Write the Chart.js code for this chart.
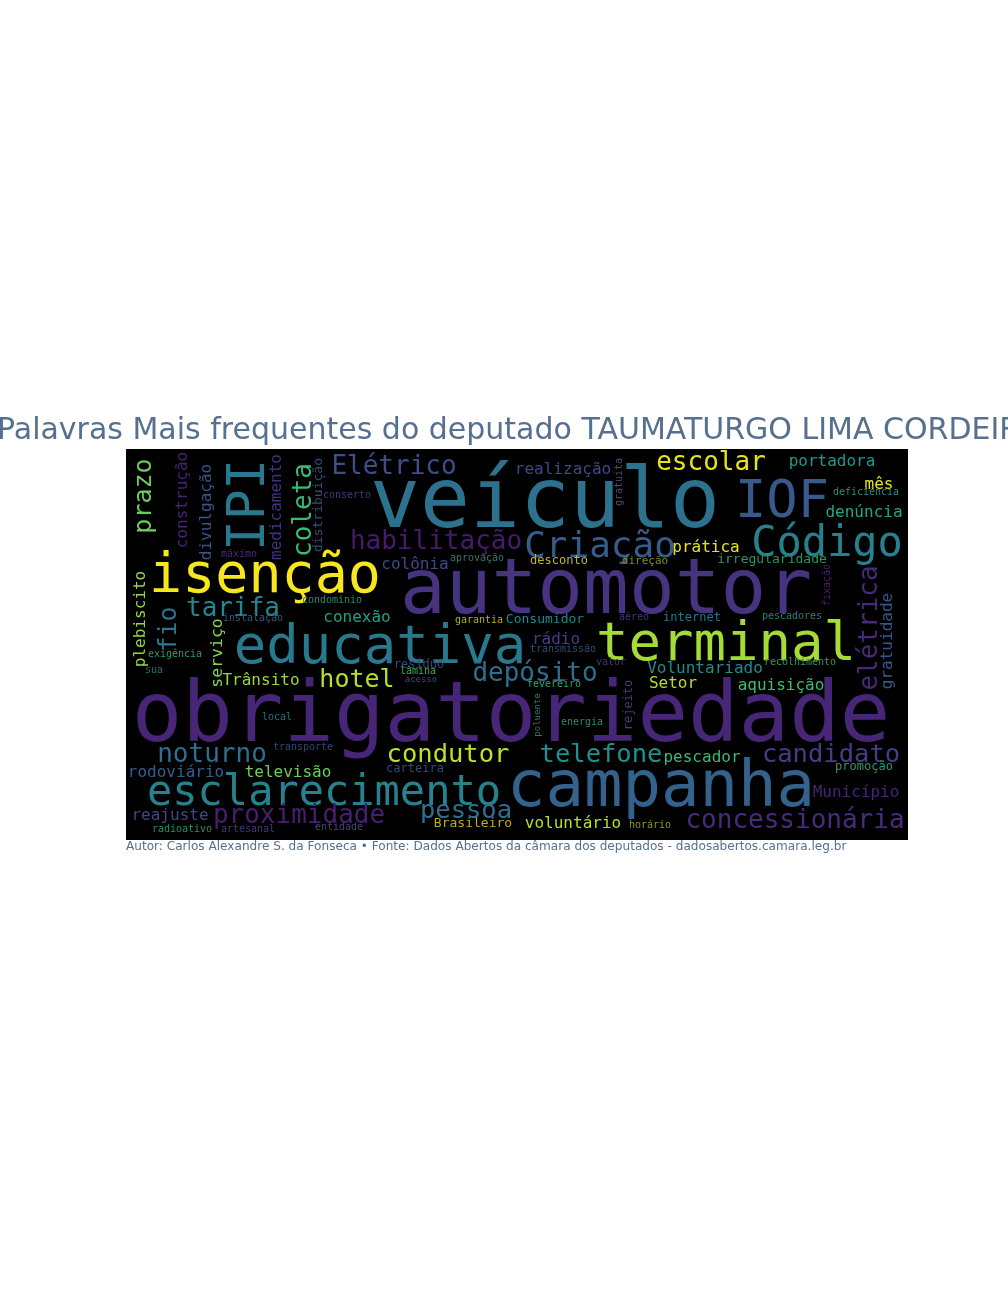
<!DOCTYPE html>
<html><head><meta charset="utf-8">
<script src="https://cdn.jsdelivr.net/npm/chart.js@4.4.0/dist/chart.umd.min.js"></script>
<style>html,body{margin:0;padding:0;background:#fff;overflow:hidden}#wrap{width:1008px;height:1296px;position:relative}</style>
</head><body><div id="wrap"><canvas id="c"></canvas></div>
<script>
const titleText = "Palavras Mais frequentes do deputado TAUMATURGO LIMA CORDEIRO";
const footerText = "Autor: Carlos Alexandre S. da Fonseca \u2022 Fonte: Dados Abertos da c\u00e2mara dos deputados - dadosabertos.camara.leg.br";

const words = ["obrigatoriedade","veículo","automotor","campanha","educativa","terminal","isenção","esclarecimento","IOF","Código","Criação","habilitação","Elétrico","escolar","realização","portadora","mês","deficiência","denúncia","prática","irregularidade","desconto","direção","colônia","aprovação","conserto","tarifa","conexão","condominio","garantia","Consumidor","rádio","transmissão","aéreo","internet","pescadores","Voluntariado","Setor","aquisição","recolhimento","depósito","hotel","resíduo","lâmina","acesso","valor","fevereiro","energia","noturno","condutor","telefone","pescador","candidato","promoção","rodoviário","televisão","carteira","transporte","local","exigência","sua","Trânsito","Município","concessionária","voluntário","horário","Brasileiro","pessoa","proximidade","reajuste","radioativo","artesanal","entidade","máximo","instalação","IPI","prazo","construção","divulgação","medicamento","coleta","distribuição","plebiscito","fio","serviço","elétrica","gratuidade","fixação","gratuita","rejeito","poluente"];
const posX = [385,419,480,535,254,600,139,198,656,701,474,310,268,585,437,706,753,740,738,580,646,433,519,289,351,221,107,231,206,353,419,430,437,508,566,666,579,547,655,674,409,231,293,292,295,485,428,456,86,322,475,576,705,738,50,162,289,177,151,49,28,135,730,669,447,524,347,340,173,44,56,122,213,113,127,138,25,61,85,155,185,196,19,50,96,751,766,704,496,506,414];
const posY = [292,78,164,357,214,211,143,356,68,107,108,100,25,21,25,17,40,46,68,103,114,115,115,120,112,49,167,173,154,174,174,195,203,171,172,170,224,239,241,216,232,238,219,225,233,216,238,276,313,313,313,313,313,321,328,328,323,301,271,208,224,236,348,379,379,379,378,369,374,371,383,383,381,108,172,56,47,51,63,58,61,56,170,180,204,179,192,136,33,256,266];
const weights = [84,83,76,64,54,54,55,42,52,42,36,26,26,26,16,16,16,10,16,16,13,12,11,16,10,10,26,16,10,10,13,16,10,10,12,10,16,16,16,10,26,25,12,10,9,10,10,10,26,25.5,25.5,16,25.5,12,16,16,12,10,10,10,10,16,16,26,16,10,13,25.5,26,16,10,10,10,10,10,51,25,16,16,16,26,13,16,25,16.5,26,16,10,10,12,9];
const vertical = [0,0,0,0,0,0,0,0,0,0,0,0,0,0,0,0,0,0,0,0,0,0,0,0,0,0,0,0,0,0,0,0,0,0,0,0,0,0,0,0,0,0,0,0,0,0,0,0,0,0,0,0,0,0,0,0,0,0,0,0,0,0,0,0,0,0,0,0,0,0,0,0,0,0,0,1,1,1,1,1,1,1,1,1,1,1,1,1,1,1,1];
const wordColors = ["#482677","#2c728e","#463480","#33638d","#29798e","#a5db36","#f6e620","#26828e","#38598c","#27808e","#365c8d","#481a6c","#3d4e8a","#e7e419","#3e4989","#1f9a8a","#e5e419","#2a8a78","#22a785","#e8e419","#2f9460","#bdb521","#7f8a2a","#3e4a89","#2a7a6a","#383f7a","#24868e","#1fa187","#2c8f60","#aeae22","#24878e","#424086","#2f4f7a","#3e3a78","#22788a","#2a7f7b","#228c8d","#bade28","#3dbc74","#2c9a62","#2e6e8e","#bade28","#3d4178","#3aa86a","#2f4f7a","#3a3f72","#33a26b","#288a6a","#2e6e8e","#c0df25","#20928c","#3aba76","#433e85","#2a9a63","#34608d","#6ccd5a","#34497a","#2f4a77","#23707a","#2f9a6a","#237070","#95d840","#482475","#472c7a","#bade28","#8e9a2a","#bfae1c","#2e6f8e","#481f70","#3f4788","#2a8f6a","#3e3f75","#3f4a6e","#4a2a78","#2c5e7a","#2a788e","#6ccd5a","#482475","#3b528b","#46307e","#3aba76","#34507a","#8fd744","#2a788e","#84d44b","#482878","#39568c","#45206e","#4b4f6e","#3e3f70","#2b7a5e"];

const points = words.map((w, i) => ({x: posX[i], y: posY[i]}));

const cloudPlugin = {
  id: 'cloud',
  beforeDraw(chart) {
    const {ctx, chartArea: a} = chart;
    ctx.save();
    ctx.fillStyle = '#000';
    ctx.fillRect(a.left, a.top, a.right - a.left, a.bottom - a.top);
    ctx.restore();
  },
  afterDatasetsDraw(chart) {
    const ctx = chart.ctx, xs = chart.scales.x, ys = chart.scales.y, a = chart.chartArea;
    const k = (a.right - a.left) / (xs.max - xs.min);
    ctx.save();
    ctx.beginPath();
    ctx.rect(a.left, a.top, a.right - a.left, a.bottom - a.top);
    ctx.clip();
    words.forEach((w, i) => {
      const px = xs.getPixelForValue(posX[i]);
      const py = ys.getPixelForValue(posY[i]);
      ctx.save();
      ctx.translate(px, py);
      if (vertical[i]) ctx.rotate(-Math.PI / 2);
      ctx.font = (weights[i] * k) + 'px "DejaVu Sans Mono"';
      ctx.fillStyle = wordColors[i];
      ctx.textAlign = 'center';
      ctx.textBaseline = 'alphabetic';
      ctx.fillText(w, 0, 0);
      ctx.restore();
    });
    ctx.restore();
  },
  afterDraw(chart) {
    const ctx = chart.ctx, a = chart.chartArea;
    ctx.save();
    ctx.fillStyle = '#56708f';
    ctx.textBaseline = 'alphabetic';
    ctx.textAlign = 'left';
    ctx.font = '30px "DejaVu Sans"';
    ctx.fillText(titleText, -3, a.top - 10);
    ctx.font = '12.1px "DejaVu Sans"';
    ctx.fillText(footerText, a.left, a.bottom + 10);
    ctx.restore();
  }
};

new Chart(document.getElementById('c'), {
  type: 'scatter',
  data: {datasets: [{data: points, pointRadius: 0, pointHoverRadius: 0, showLine: false}]},
  options: {
    responsive: true,
    maintainAspectRatio: false,
    animation: false,
    events: [],
    layout: {padding: {left: 126, right: 100, top: 449, bottom: 456}},
    scales: {
      x: {type: 'linear', min: 0, max: 782, display: false},
      y: {type: 'linear', min: 0, max: 391, reverse: true, display: false}
    },
    plugins: {legend: {display: false}, tooltip: {enabled: false}, title: {display: false}}
  },
  plugins: [cloudPlugin]
});
</script></body></html>
